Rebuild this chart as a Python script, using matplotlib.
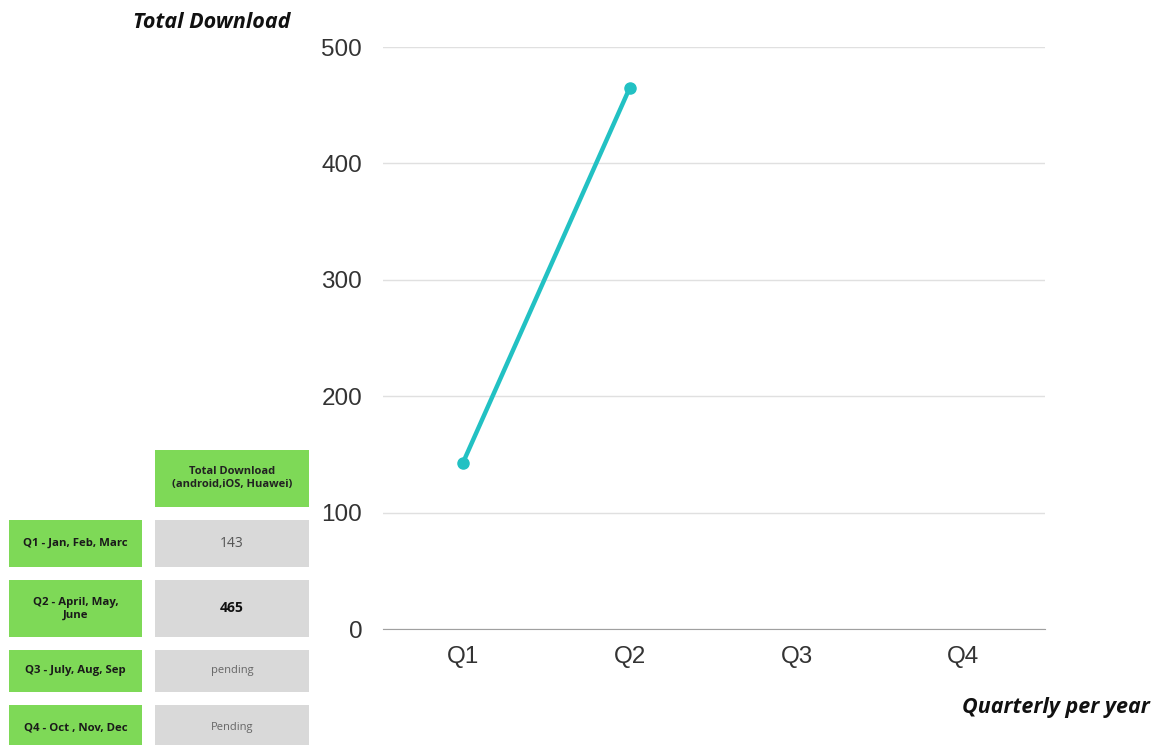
import matplotlib
matplotlib.use("Agg")
import matplotlib.pyplot as plt
from matplotlib.patches import Rectangle

quarters = ["Q1", "Q2", "Q3", "Q4"]
downloads = [143, 465]          # only Q1 and Q2 reported so far
y_ticks = [0, 100, 200, 300, 400, 500]

row_labels = ["Q1 - Jan, Feb, Marc", "Q2 - April, May,\nJune",
              "Q3 - July, Aug, Sep", "Q4 - Oct , Nov, Dec"]
row_values = ["143", "465", "pending", "Pending"]
header_label = "Total Download\n(android,iOS, Huawei)"

teal = "#22C1C3"
green = "#7ED957"
cell_gray = "#D9D9D9"

fig = plt.figure(figsize=(11.59, 7.45), dpi=100)

# main line chart
ax = fig.add_axes([383 / 1159, 1 - 629 / 745, 662 / 1159, 582 / 745])
x = list(range(len(downloads)))
ax.plot(x, downloads, color=teal, lw=3.2, marker="o", ms=8,
        solid_capstyle="round", clip_on=False, zorder=3)
ax.set_xlim(-0.48, 3.49)
ax.set_ylim(0, 500)
ax.set_xticks(range(len(quarters)))
ax.set_xticklabels(quarters)
ax.set_yticks(y_ticks)
ax.grid(axis="y", color="#E0E0E0", lw=1)
ax.set_axisbelow(True)
for s in ["top", "right", "left"]:
    ax.spines[s].set_visible(False)
ax.spines["bottom"].set_color("#A0A0A0")
ax.tick_params(length=0, labelsize=17.5, colors="#333333")
ax.tick_params(axis="x", pad=12)
ax.tick_params(axis="y", pad=15)
for lab in ax.get_xticklabels() + ax.get_yticklabels():
    lab.set_fontfamily("Liberation Sans")

fig.text(133 / 1159, 1 - 22 / 745, "Total Download", fontsize=15.5,
         fontweight="bold", style="italic", family="Open Sans",
         color="#111111", ha="left", va="center")
fig.text(1150 / 1159, 1 - 707 / 745, "Quarterly per year", fontsize=15.5,
         fontweight="bold", style="italic", family="Open Sans",
         color="#111111", ha="right", va="center")

# summary table drawn as boxes in pixel space
tab = fig.add_axes([0, 0, 1, 1])
tab.set_xlim(0, 1159)
tab.set_ylim(745, 0)
tab.axis("off")
tab.patch.set_alpha(0)


def cell(x0, x1, y0, y1, fill, text, **kw):
    tab.add_patch(Rectangle((x0, y0), x1 - x0, y1 - y0, color=fill, lw=0))
    tab.text((x0 + x1) / 2, (y0 + y1) / 2, text, ha="center", va="center",
             family="Open Sans", linespacing=1.25, **kw)


cell(155, 309, 450, 507, green, header_label, fontsize=8,
     fontweight="bold", color="#222222")
rows_y = [(520, 567), (580, 637), (650, 692), (705, 750)]
for (y0, y1), lab, val in zip(rows_y, row_labels, row_values):
    cell(9, 142, y0, y1, green, lab, fontsize=8.2, fontweight="bold",
         color="#1a1a1a")
    if val == "465":
        cell(155, 309, y0, y1, cell_gray, val, fontsize=10,
             fontweight="bold", color="#111111")
    elif val.isdigit():
        cell(155, 309, y0, y1, cell_gray, val, fontsize=10, color="#555555")
    else:
        cell(155, 309, y0, y1, cell_gray, val, fontsize=8, color="#666666")

fig.savefig("out.png", dpi=100)
